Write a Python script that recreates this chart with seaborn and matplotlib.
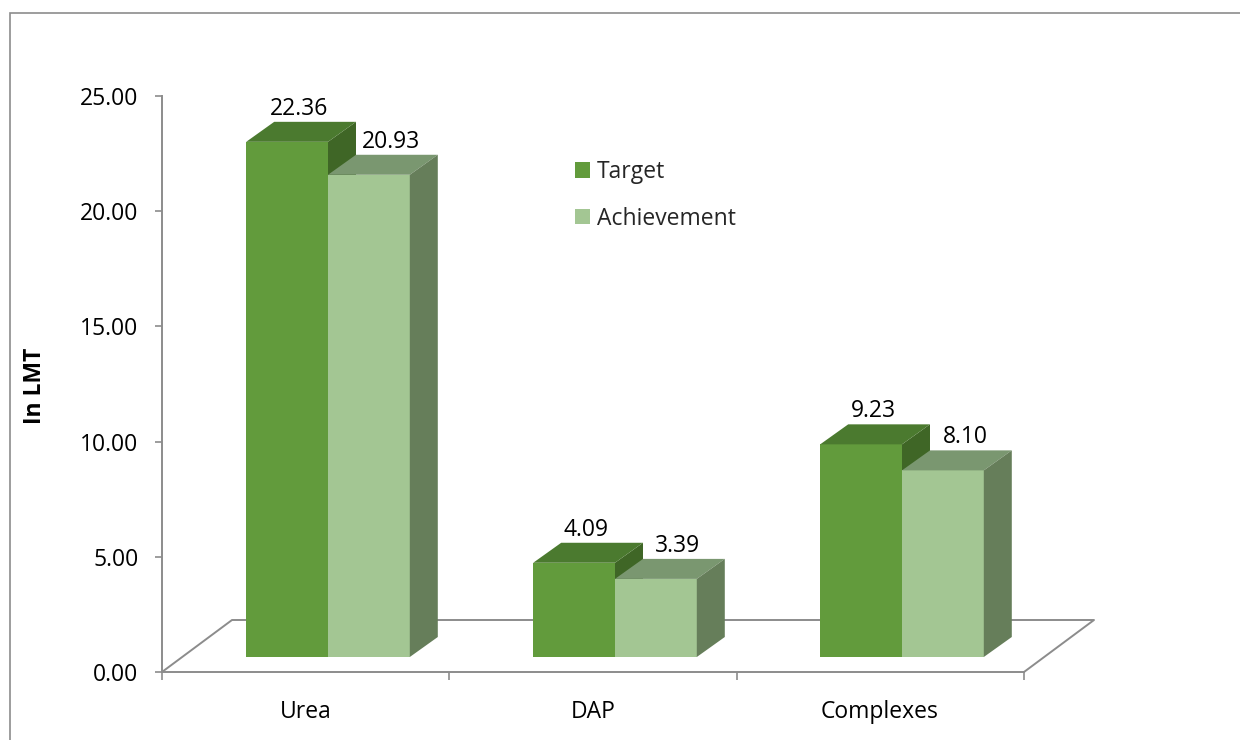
import numpy as np
import pandas as pd
import matplotlib
matplotlib.use("Agg")
import matplotlib.pyplot as plt
import seaborn as sns
from matplotlib.patches import Polygon, Rectangle, Patch

# ---- data ----
categories = ["Urea", "DAP", "Complexes"]
series = ["Target", "Achievement"]
target = [22.36, 4.09, 9.23]
achievement = [20.93, 3.39, 8.10]
yticks = [0, 5, 10, 15, 20, 25]
ylabel = "In LMT"

df = pd.DataFrame({
    "Category": categories * 2,
    "Series": [series[0]] * len(categories) + [series[1]] * len(categories),
    "Value": target + achievement,
})

sns.set_theme(style="white")
plt.rcParams["font.family"] = ["Open Sans", "DejaVu Sans"]

W, H = 1240, 740
fig = plt.figure(figsize=(W / 100, H / 100), dpi=100)
px_l, px_r, px_b, px_t = 162, 1103, 672, 96
ax = fig.add_axes([px_l / W, 1 - px_b / H, (px_r - px_l) / W, (px_b - px_t) / H])

front = ["#629B3C", "#A3C693"]
topc = ["#4B7A2F", "#7A9770"]
sidec = ["#3F6626", "#667E5A"]
grey = "#8C8C8C"
fs = 16.5

sns.barplot(data=df, x="Category", y="Value", hue="Series", order=categories,
            hue_order=series, palette=front, width=0.57, gap=0, saturation=1,
            linewidth=0, errorbar=None, ax=ax, legend=False)

# pixel -> data geometry
xunit = 287.0
yunit = (px_b - px_t) / 25.0
xmin = -(328 - px_l) / xunit
xmax = (px_r - 328) / xunit
ax.set_xlim(xmin, xmax)
ax.set_ylim(0, 25)

base = 15 / yunit
dx, dy = 28 / xunit, 20 / yunit
fdx, fdy = 70 / xunit, 52 / yunit
front_right = (1024 - 328) / xunit

# floor
ax.plot([xmin, xmin + fdx, front_right + fdx, front_right],
        [0, fdy, fdy, 0], color=grey, lw=1.4, clip_on=False, zorder=1)

label_shift = [12 / xunit, 22 / xunit]
for k, cont in enumerate(ax.containers):
    for bar in cont:
        v = bar.get_height()
        x0 = bar.get_x()
        w = bar.get_width()
        bar.set_y(base)
        bar.set_zorder(3)
        yt = base + v
        ax.add_patch(Polygon([(x0, yt), (x0 + w, yt), (x0 + w + dx, yt + dy), (x0 + dx, yt + dy)],
                             closed=True, facecolor=topc[k], edgecolor="none", zorder=3))
        ax.add_patch(Polygon([(x0 + w, base), (x0 + w, yt), (x0 + w + dx, yt + dy), (x0 + w + dx, base + dy)],
                             closed=True, facecolor=sidec[k], edgecolor="none", zorder=2 if k == 0 else 3))
        ax.text(x0 + w / 2 + label_shift[k], yt + dy + 13 / yunit, f"{v:.2f}",
                ha="center", va="center", fontsize=fs, color="black", zorder=5)

# axes styling
for s in ["top", "right"]:
    ax.spines[s].set_visible(False)
ax.spines["left"].set_color(grey)
ax.spines["left"].set_linewidth(1.4)
ax.spines["bottom"].set_color(grey)
ax.spines["bottom"].set_linewidth(1.4)
ax.spines["bottom"].set_bounds(xmin, front_right)

ax.set_yticks(yticks, labels=[f"{t:.2f}" for t in yticks])
ax.tick_params(axis="y", which="major", left=True, length=5, width=1.2, color=grey,
               pad=12, labelsize=fs, labelcolor="black")

ax.set_xticks([i - 22 / xunit for i in range(len(categories))], labels=categories)
ax.set_xticks([xmin + i * (front_right - xmin) / 3 for i in range(4)], minor=True)
ax.tick_params(axis="x", which="major", bottom=True, length=0, pad=20, labelsize=fs,
               labelcolor="black")
ax.tick_params(axis="x", which="minor", bottom=True, length=6, width=1.2, color=grey)
ax.set_xlabel("")

ax.set_ylabel(ylabel, fontsize=fs, fontweight="bold", color="black")
ax.yaxis.set_label_coords((47 - px_l) / (px_r - px_l), (px_b - 386) / (px_b - px_t))

handles = [Patch(facecolor=c, edgecolor="none") for c in front]
ax.legend(handles, series, frameon=False, loc="upper left",
          bbox_to_anchor=(575 / W, 1 - 160 / H), bbox_transform=fig.transFigure,
          borderpad=0, borderaxespad=0, handlelength=0.64, handleheight=0.64,
          handletextpad=0.3, labelspacing=1.0, fontsize=fs)

fig.add_artist(Rectangle((10 / W, -0.05), 1.2, (H - 13) / H + 0.05, transform=fig.transFigure,
                         fill=False, edgecolor=grey, lw=1.2))

fig.savefig("out.png", dpi=100, facecolor="white")
